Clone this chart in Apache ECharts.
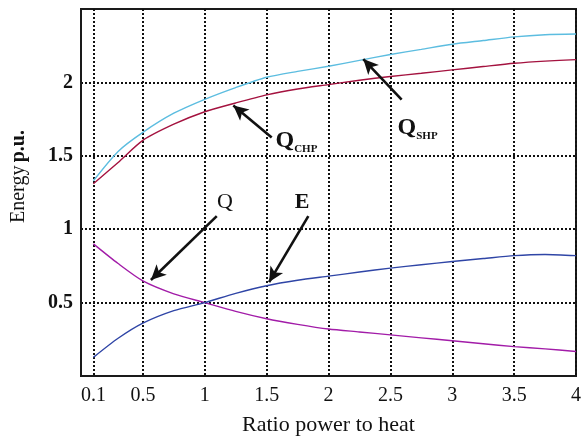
<!DOCTYPE html>
<html>
<head>
<meta charset="utf-8">
<script src="https://cdn.jsdelivr.net/npm/echarts@6/dist/echarts.min.js"></script>
<style>html,body{margin:0;padding:0;background:#fff}#c{width:585px;height:441px}</style>
</head>
<body>
<div id="c"></div>
<script>
// ---- data ----
var ratio = [0.1, 0.3, 0.5, 0.75, 1, 1.25, 1.5, 1.75, 2, 2.25, 2.5, 2.75, 3, 3.25, 3.5, 3.75, 4];
var qSHP  = [1.33, 1.53, 1.66, 1.79, 1.885, 1.965, 2.035, 2.075, 2.11, 2.15, 2.19, 2.225, 2.26, 2.285, 2.31, 2.325, 2.33];
var qCHP  = [1.31, 1.455, 1.605, 1.715, 1.80, 1.86, 1.915, 1.955, 1.985, 2.015, 2.04, 2.062, 2.085, 2.108, 2.13, 2.145, 2.155];
var qHeat = [0.90, 0.766, 0.648, 0.56, 0.50, 0.44, 0.39, 0.352, 0.32, 0.30, 0.28, 0.26, 0.24, 0.22, 0.20, 0.185, 0.167];
var eVals = [0.127, 0.257, 0.36, 0.445, 0.50, 0.563, 0.615, 0.652, 0.68, 0.708, 0.735, 0.758, 0.78, 0.80, 0.82, 0.828, 0.82];
var xTicks = [0.1, 0.5, 1, 1.5, 2, 2.5, 3, 3.5, 4];
var yTicks = [0.5, 1, 1.5, 2];
// annotation arrows: [tailX, tailY, headX, headY]
var arrows = [
  [1.097, 1.089, 0.565, 0.654],
  [1.837, 1.089, 1.52, 0.64],
  [1.541, 1.624, 1.231, 1.843],
  [2.591, 1.883, 2.281, 2.159]
];
// annotation labels: [x, y, text]
var labelsC = [
  [1.164, 1.186, '{q|Q}'],
  [1.786, 1.186, '{e|E}'],
  [1.741, 1.60, '{b|Q}{s|CHP}'],
  [2.72, 1.69, '{b|Q}{s|SHP}']
];

function pairs(xs, ys) { return xs.map(function (x, i) { return [x, ys[i]]; }); }
var serif = '"Liberation Serif", "DejaVu Serif", serif';
var ink = '#111111';

var chart = echarts.init(document.getElementById('c'), null, {renderer: 'canvas'});
function line(name, ys, color) {
  return {
    name: name, type: 'line', data: pairs(ratio, ys), smooth: 0.25,
    showSymbol: false, lineStyle: {color: color, width: 1.4}, z: 3
  };
}
function rt(size, bold) {
  return {fontFamily: serif, fontSize: size, fontWeight: bold ? 'bold' : 'normal', color: ink,
          textBorderWidth: 0, opacity: 1};
}
var subStyle = rt(11, true); subStyle.verticalAlign = 'bottom'; subStyle.padding = [0, 0, -2, 0];
var bigQ = rt(24, true); bigQ.verticalAlign = 'bottom';

chart.setOption({
  animation: false,
  backgroundColor: '#fff',
  grid: {left: 81, top: 9, right: 9, bottom: 63, show: true, borderColor: '#1a1a1a', borderWidth: 2},
  xAxis: {
    type: 'value', min: 0, max: 4,
    name: 'Ratio power to heat', nameLocation: 'middle', nameGap: 38,
    nameTextStyle: {fontFamily: serif, fontSize: 22, color: ink},
    axisLine: {show: true, lineStyle: {color: '#1a1a1a', width: 2}},
    axisTick: {show: false, customValues: xTicks},
    axisLabel: {customValues: xTicks, fontFamily: serif, fontSize: 20, color: ink, margin: 10},
    splitLine: {show: true, lineStyle: {color: '#111', width: 2, type: [2, 2]}}
  },
  yAxis: {
    type: 'value', min: 0, max: 2.5,
    name: '{a|Energy} {b|p.u.}', nameLocation: 'middle', nameGap: 52, nameRotate: 90,
    nameTextStyle: {
      padding: [0, 0, 0, 32],
      rich: {a: rt(20, false), b: rt(20, true)}
    },
    axisLine: {show: true, lineStyle: {color: '#1a1a1a', width: 2}},
    axisTick: {show: false, customValues: yTicks},
    axisLabel: {customValues: yTicks, fontFamily: serif, fontSize: 20, fontWeight: 'bold', color: ink, margin: 8},
    splitLine: {show: true, lineStyle: {color: '#111', width: 2, type: [2, 2]}}
  },
  series: [
    line('Q_SHP', qSHP, '#5cbde0'),
    line('Q_CHP', qCHP, '#a4123f'),
    line('Q', qHeat, '#a21ca8'),
    line('E', eVals, '#2f45a6'),
    {
      name: 'arrows', type: 'line', data: [], z: 5,
      markLine: {
        silent: true, animation: false,
        symbol: ['none', 'arrow'], symbolSize: [11, 15],
        label: {show: false},
        lineStyle: {color: ink, width: 2.6, type: 'solid', opacity: 1},
        data: arrows.map(function (a) { return [{coord: [a[0], a[1]]}, {coord: [a[2], a[3]]}]; })
      }
    },
    {
      name: 'labels', type: 'scatter', symbolSize: 0, z: 6, silent: true,
      itemStyle: {opacity: 1, color: ink},
      data: labelsC.map(function (l) { return {value: [l[0], l[1]], label: {formatter: l[2]}}; }),
      label: {
        show: true, position: 'inside', color: ink, opacity: 1, textBorderWidth: 0,
        rich: {q: rt(22, false), e: rt(22, true), b: bigQ, s: subStyle}
      }
    }
  ]
});
</script>
</body>
</html>
